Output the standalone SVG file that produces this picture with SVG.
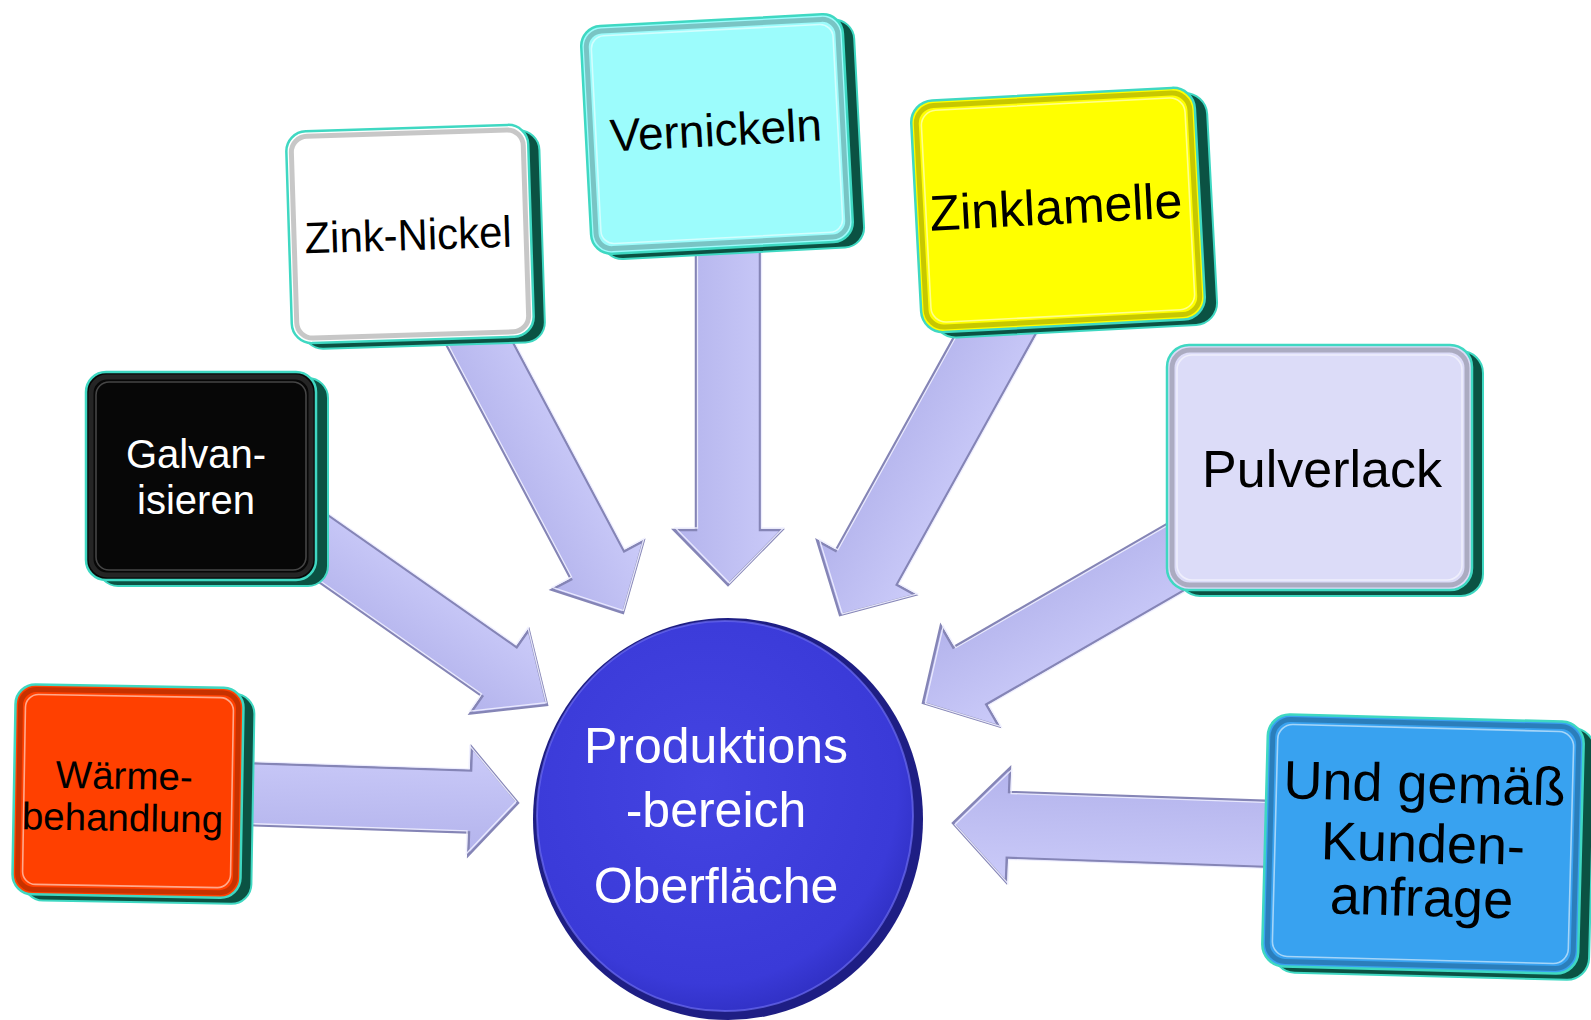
<svg xmlns="http://www.w3.org/2000/svg" width="1591" height="1020" viewBox="0 0 1591 1020">
<style>
.arr{fill:url(#ag);stroke:#8585b6;stroke-width:2.5;stroke-linejoin:miter}
.arrhi{fill:none;stroke:#eeeeff;stroke-width:1.3;opacity:.9}
.side{fill:#0b5243;stroke:#3fd8c2;stroke-width:2}
.face{stroke:#3fd8c2;stroke-width:2.5}
.bev{fill:none;stroke:#000;stroke-opacity:.22;stroke-width:5}
.hl{fill:none;stroke:#fff;stroke-opacity:.55;stroke-width:1.6}
.t{font-family:"Liberation Sans",Arial,Helvetica,sans-serif;text-anchor:middle;fill:#000}
.w{fill:#fff}
</style>
<defs>
<linearGradient id="ag" x1="0" y1="0" x2="0" y2="1">
<stop offset="0" stop-color="#cbcbf9"/>
<stop offset="1" stop-color="#b3b3ec"/>
</linearGradient>
<radialGradient id="cg" cx="0.45" cy="0.42" r="0.6">
<stop offset="0" stop-color="#4444e2"/>
<stop offset="0.85" stop-color="#3a3ad8"/>
<stop offset="1" stop-color="#3030c4"/>
</radialGradient>
</defs>
<rect width="1591" height="1020" fill="#fff"/>
<g id="connectors">
<g transform="translate(518 803) rotate(1.9)">
<polygon class="arr" points="-275,-31 -48,-31 -48,-54 0,0 -48,54 -48,31 -275,31"/>
<polygon class="arrhi" transform="translate(-2 -1.5)" points="-275,-31 -48,-31 -48,-54 0,0 -48,54 -48,31 -275,31"/>
</g>
<g transform="translate(547 705) rotate(35)">
<polygon class="arr" points="-290,-30 -58,-30 -58,-51 0,0 -58,51 -58,30 -290,30"/>
<polygon class="arrhi" transform="translate(-2 -1.5)" points="-290,-30 -58,-30 -58,-51 0,0 -58,51 -58,30 -290,30"/>
</g>
<g transform="translate(623 613) rotate(62)">
<polygon class="arr" points="-320,-30 -54,-30 -54,-52 0,0 -54,52 -54,30 -320,30"/>
<polygon class="arrhi" transform="translate(-2 -1.5)" points="-320,-30 -54,-30 -54,-52 0,0 -54,52 -54,30 -320,30"/>
</g>
<g transform="translate(728 585) rotate(90)">
<polygon class="arr" points="-345,-32 -55,-32 -55,-54 0,0 -55,54 -55,32 -345,32"/>
<polygon class="arrhi" transform="translate(-2 -1.5)" points="-345,-32 -55,-32 -55,-54 0,0 -55,54 -55,32 -345,32"/>
</g>
<g transform="translate(840 615) rotate(119)">
<polygon class="arr" points="-345,-35 -54,-35 -54,-56 0,0 -54,56 -54,35 -345,35"/>
<polygon class="arrhi" transform="translate(-2 -1.5)" points="-345,-35 -54,-35 -54,-56 0,0 -54,56 -54,35 -345,35"/>
</g>
<g transform="translate(923 703) rotate(150)">
<polygon class="arr" points="-300,-33 -54,-33 -54,-58 0,0 -54,58 -54,33 -300,33"/>
<polygon class="arrhi" transform="translate(-2 -1.5)" points="-300,-33 -54,-33 -54,-58 0,0 -54,58 -54,33 -300,33"/>
</g>
<g transform="translate(953 823) rotate(182)">
<polygon class="arr" points="-320,-33 -55,-33 -55,-57 0,0 -55,57 -55,33 -320,33"/>
<polygon class="arrhi" transform="translate(-2 -1.5)" points="-320,-33 -55,-33 -55,-57 0,0 -55,57 -55,33 -320,33"/>
</g>
</g>
<g id="node-waerme" transform="rotate(1 127 791)">
<rect class="side" x="25" y="692" width="228" height="210" rx="20"/>
<rect class="face" x="14" y="686" width="228" height="210" rx="20" fill="#ff4000"/>
<rect class="bev" x="19" y="691" width="218" height="200" rx="16"/>
<rect class="hl" x="24" y="696" width="208" height="190" rx="13"/>
<text class="t" x="124" y="789" font-size="38.5">Wärme-</text>
<text class="t" x="123" y="831" font-size="38.5">behandlung</text>
</g>
<g id="node-galvan">
<rect class="side" x="98" y="378" width="230" height="208" rx="20"/>
<rect class="face" x="86" y="372" width="230" height="208" rx="20" fill="#070707"/>
<rect class="bev" x="91" y="377" width="220" height="198" rx="16" style="stroke:#fff;stroke-opacity:.12"/>
<rect class="hl" x="96" y="382" width="210" height="188" rx="13" style="stroke-opacity:.25"/>
<text class="t w" x="196" y="468" font-size="40">Galvan-</text>
<text class="t w" x="196" y="514" font-size="40">isieren</text>
</g>
<g id="node-zinknickel" transform="rotate(-1.8 410 234)">
<rect class="side" x="300" y="134" width="242" height="212" rx="20"/>
<rect class="face" x="289" y="128" width="242" height="212" rx="20" fill="#ffffff"/>
<rect class="bev" x="294" y="133" width="232" height="202" rx="16"/>
<rect class="hl" x="299" y="138" width="222" height="192" rx="13"/>
<text class="t" x="408" y="250" font-size="44" textLength="207" lengthAdjust="spacingAndGlyphs">Zink-Nickel</text>
</g>
<g id="node-vernickeln" transform="rotate(-3 717 134)">
<rect class="side" x="597" y="26" width="262" height="228" rx="20"/>
<rect class="face" x="586" y="20" width="262" height="228" rx="20" fill="#9cfcfc"/>
<rect class="bev" x="591" y="25" width="252" height="218" rx="16"/>
<rect class="hl" x="596" y="30" width="242" height="208" rx="13"/>
<text class="t" x="716" y="146" font-size="46">Vernickeln</text>
</g>
<g id="node-zinklamelle" transform="rotate(-3 1058 210)">
<rect class="side" x="928" y="100" width="284" height="232" rx="22"/>
<rect class="face" x="916" y="94" width="284" height="232" rx="22" fill="#ffff00"/>
<rect class="bev" x="921" y="99" width="274" height="222" rx="18"/>
<rect class="hl" x="926" y="104" width="264" height="212" rx="15"/>
<text class="t" x="1056" y="224" font-size="50">Zinklamelle</text>
</g>
<g id="node-pulverlack">
<rect class="side" x="1178" y="351" width="305" height="245" rx="22"/>
<rect class="face" x="1167" y="345" width="305" height="245" rx="22" fill="#dcdcf8"/>
<rect class="bev" x="1172" y="350" width="295" height="235" rx="18"/>
<rect class="hl" x="1177" y="355" width="285" height="225" rx="15"/>
<text class="t" x="1322" y="487" font-size="52">Pulverlack</text>
</g>
<g id="node-kunden" transform="rotate(1.5 1423 844)">
<rect class="side" x="1276" y="724" width="316" height="252" rx="22"/>
<rect class="face" x="1265" y="718" width="316" height="252" rx="22" fill="#38a2f0"/>
<rect class="bev" x="1270" y="723" width="306" height="242" rx="18"/>
<rect class="hl" x="1275" y="728" width="296" height="232" rx="15"/>
<text class="t" x="1423" y="802" font-size="54">Und gemäß</text>
<text class="t" x="1423" y="862" font-size="54">Kunden-</text>
<text class="t" x="1423" y="916" font-size="54">anfrage</text>
</g>
<g id="node-center">
<ellipse cx="728" cy="819" rx="195" ry="201" fill="#1e1e84"/>
<ellipse cx="725" cy="816" rx="188" ry="195" fill="url(#cg)" stroke="#6b6bf0" stroke-width="2" stroke-opacity=".7"/>
<text class="t w" x="716" y="763" font-size="50">Produktions</text>
<text class="t w" x="716" y="827" font-size="50">-bereich</text>
<text class="t w" x="716" y="903" font-size="50">Oberfläche</text>
</g>
</svg>
